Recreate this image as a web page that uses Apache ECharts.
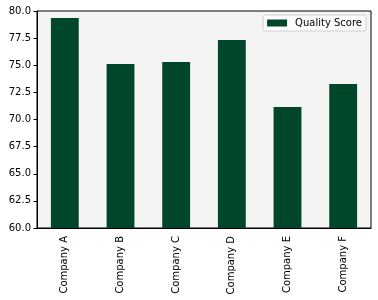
<!DOCTYPE html>
<html><head><meta charset="utf-8">
<script src="https://cdn.jsdelivr.net/npm/echarts@6/dist/echarts.min.js"></script>
<style>html,body{margin:0;padding:0;background:#fff}#c{width:378px;height:300px}</style>
</head><body><div id="c"></div>
<script>
const categories = ["Company A","Company B","Company C","Company D","Company E","Company F"];
const qualityScore = [79.35, 75.12, 75.3, 77.33, 71.15, 73.27];
const seriesName = "Quality Score";

const chart = echarts.init(document.getElementById('c'), null, {renderer:'canvas'});
chart.setOption({
  animation:false,
  textStyle:{fontFamily:'DejaVu Sans'},
  grid:{left:37,right:7,top:11,bottom:72,show:true,backgroundColor:'#f4f4f4',borderColor:'#000',borderWidth:1},
  legend:{
    data:[seriesName], right:12, top:15, icon:'rect', itemWidth:20, itemHeight:7, itemGap:0,
    backgroundColor:'#fbfbfb', borderColor:'#d0d0d0', borderWidth:1, borderRadius:2, padding:[3,4,3,4],
    textStyle:{fontSize:10,color:'#000',fontFamily:'DejaVu Sans',padding:[0,0,0,3]}
  },
  xAxis:{
    type:'category', data:categories,
    axisLine:{lineStyle:{color:'#000'}},
    axisTick:{alignWithLabel:true,length:3.5,lineStyle:{color:'#000'}},
    axisLabel:{rotate:90,fontSize:10,color:'#000',margin:8,interval:0}
  },
  yAxis:{
    type:'value', min:60, max:80, interval:2.5,
    axisLine:{show:true,lineStyle:{color:'#000'}},
    axisTick:{show:true,length:3.5,lineStyle:{color:'#000'}},
    splitLine:{show:false},
    axisLabel:{fontSize:10,color:'#000',margin:6,formatter:v=>v.toFixed(1)}
  },
  series:[{name:seriesName,type:'bar',data:qualityScore,barWidth:'50%',itemStyle:{color:'#00462b'}}]
});
</script></body></html>
